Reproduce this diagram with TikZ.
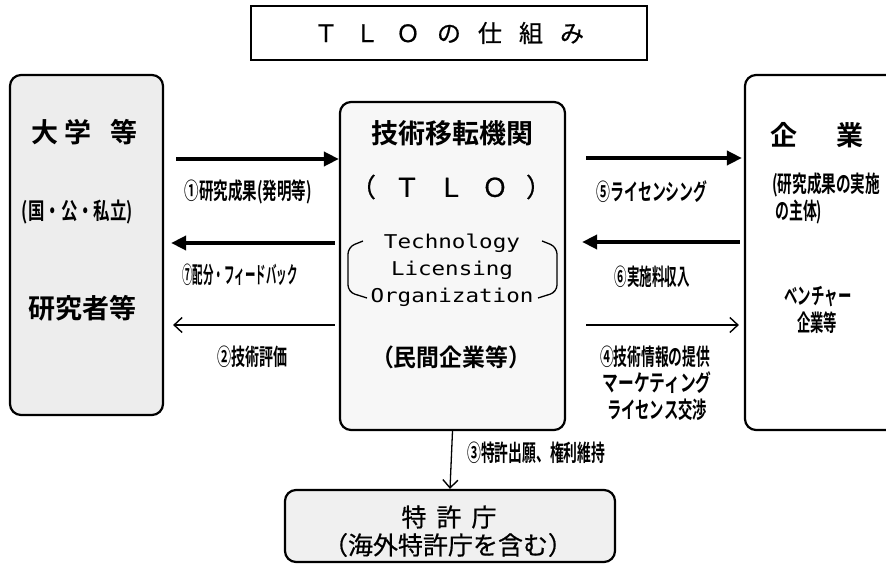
\documentclass[tikz,border=0pt]{standalone}
\usepackage{fontspec}
\usepackage{graphicx}
\usetikzlibrary{arrows.meta}
\newfontfamily\cjk{Noto Sans CJK JP}[FakeBold=0.6]
\newfontfamily\cjkb{Noto Sans CJK JP Bold}
\newfontfamily\monofam{DejaVu Sans Mono}
\newcommand\fw[2]{\resizebox{#1}{\height}{#2}}
\tikzset{
  box/.style={draw, line width=2.2pt, rounded corners=11pt, inner sep=0pt},
  bigarrow/.style={line width=3.6pt, -{Triangle[length=15pt,width=14pt]}},
  thinarrow/.style={line width=1.2pt, -{Straight Barb[length=8pt,width=15pt,line width=1.4pt]}},
  lbl/.style={inner sep=0pt, font=\cjkb\fontsize{23}{25}\selectfont},
  big/.style={inner sep=0pt, font=\cjkb\fontsize{27}{30}\selectfont},
}
\begin{document}
\begin{tikzpicture}[x=1pt,y=-1pt]
\useasboundingbox (0,0) rectangle (886,572);
\clip (0,0) rectangle (886,572);
% boxes
\node[draw, line width=1.4pt, minimum width=396pt, minimum height=54pt, inner sep=0pt] (T) at (449,33) {};
\node[inner sep=0pt, font=\cjk\fontsize{24}{28}\selectfont] (Tt) at (T.center)
  {Ｔ\hspace{17pt}Ｌ\hspace{17pt}Ｏ\hspace{17pt}の\hspace{17pt}仕\hspace{17pt}組\hspace{17pt}み};
\node[box, fill=gray!14, minimum width=153pt, minimum height=340pt] (L) at (86.5,245) {};
\node[box, fill=gray!6, minimum width=225pt, minimum height=328pt] (M) at (452.5,266) {};
\node[box, fill=white, minimum width=220pt, minimum height=355pt] (R) at (855,252.5) {};
\node[box, fill=gray!12, minimum width=330pt, minimum height=72pt] (P) at (450,526) {};
% left box texts
\node[big, anchor=west] (l1) at (31,132) {大\hspace{6pt}学\hspace{19pt}等};
\node[lbl] (l2) at (77.5,212) {\fw{111pt}{(国・公・私立)}};
\node[big] (l3) at (82,308) {研究者等};
% middle box texts
\node[big] (m1) at (452,133) {技術移転機関};
\node[inner sep=0pt, font=\cjk\fontsize{26}{30}\selectfont] (m2) at (451,187) {（\hspace{18pt}Ｔ\hspace{18pt}Ｌ\hspace{18pt}Ｏ\hspace{18pt}）};
\node[inner sep=0pt, align=center, font=\monofam\fontsize{19}{27}\selectfont] (m3) at (452,270)
  {\fw{136pt}{Technology}\\\fw{122pt}{Licensing}\\\fw{163pt}{Organization}};
\draw[line width=1.3pt, rounded corners=7pt] (363,241) -- (348,247) -- (348,292) -- (367,298);
\draw[line width=1.3pt, rounded corners=7pt] (542,241) -- (557,247) -- (557,292) -- (538,298);
\node[big, font=\cjkb\fontsize{24}{28}\selectfont] (m4) at (451,357) {\fw{160pt}{（民間企業等）}};
% right box texts
\node[big] (r1) at (817,135) {企\hspace{40pt}業};
\node[lbl, anchor=west] (r2) at (772,185) {\fw{108pt}{(研究成果の実施}};
\node[lbl, anchor=west] (r3) at (775,212) {\fw{47pt}{の主体)}};
\node[lbl] (r4) at (818,297) {\fw{67pt}{ベンチャー}};
\node[lbl] (r5) at (817,323) {\fw{40pt}{企業等}};
% bottom box texts
\node[inner sep=0pt, font=\cjk\fontsize{25}{30}\selectfont] (p1) at (449,517) {特\hspace{10pt}許\hspace{10pt}庁};
\node[inner sep=0pt, font=\cjk\fontsize{25}{30}\selectfont] (p2) at (448,545) {（海外特許庁を含む）};
% arrows left
\draw[bigarrow, shorten <=12pt] (L.east |- 0,159) -- (M.west |- 0,159);
\node[lbl] (a1) at (248,192) {\fw{127pt}{①研究成果(発明等)}};
\draw[bigarrow, shorten <=4pt, shorten >=7pt] (M.west |- 0,243) -- (L.east |- 0,243);
\node[lbl] (a7) at (240,275) {\fw{115pt}{⑦配分・フィードバック}};
\draw[thinarrow, shorten <=4pt, shorten >=9pt] (M.west |- 0,325) -- (L.east |- 0,325);
\node[lbl] (a2) at (252,357) {\fw{70pt}{②技術評価}};
% arrows right
\draw[bigarrow, shorten <=20pt, shorten >=2pt] (M.east |- 0,158) -- (R.west |- 0,158);
\node[lbl] (a5) at (652,192) {\fw{111pt}{⑤ライセンシング}};
\draw[bigarrow, shorten <=4pt, shorten >=16pt] (R.west |- 0,242) -- (M.east |- 0,242);
\node[lbl] (a6) at (652,277) {\fw{75pt}{⑥実施料収入}};
\draw[thinarrow, shorten <=20pt, shorten >=5pt] (M.east |- 0,325) -- (R.west |- 0,325);
\node[lbl] (a4a) at (655,357) {\fw{110pt}{④技術情報の提供}};
\node[lbl] (a4b) at (657,383) {\fw{109pt}{マーケティング}};
\node[lbl] (a4c) at (657,410) {\fw{100pt}{ライセンス交渉}};
% arrow down
\draw[thinarrow, line width=1.3pt] (M.south) -- (P.north);
\node[lbl, anchor=west] (a3) at (467,453) {\fw{138pt}{③特許出願、権利維持}};
\end{tikzpicture}
\end{document}
